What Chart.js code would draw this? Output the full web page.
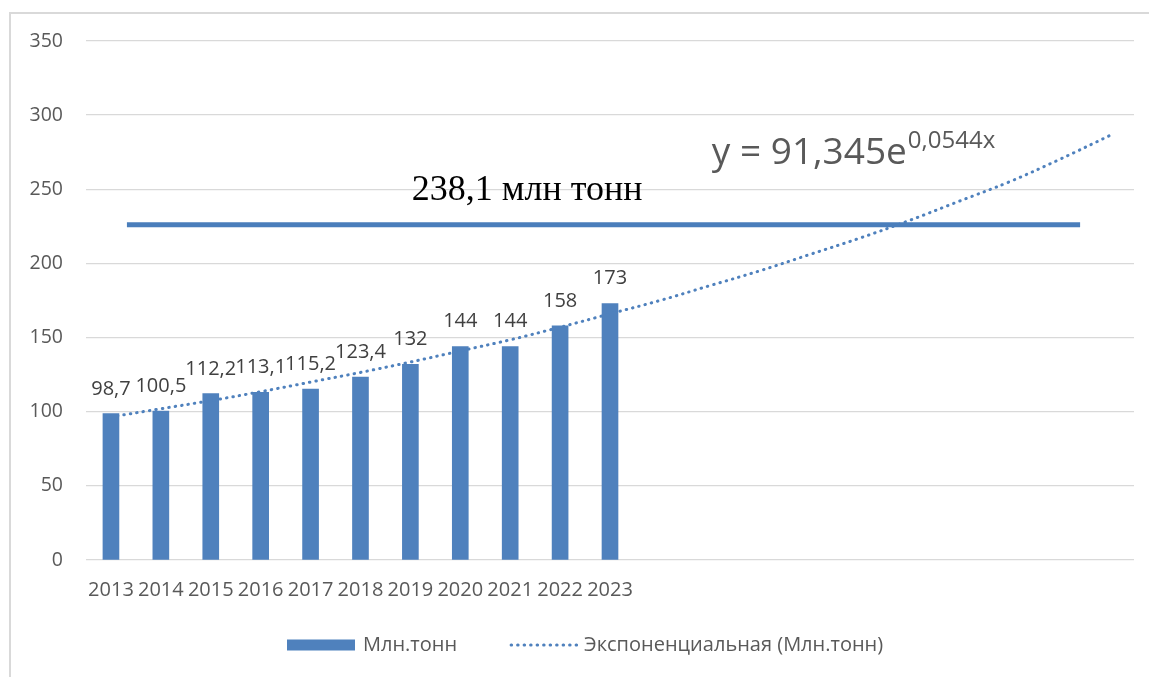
<!DOCTYPE html>
<html>
<head>
<meta charset="utf-8">
<script src="https://cdn.jsdelivr.net/npm/chart.js@4/dist/chart.umd.min.js"></script>
<style>
body{margin:0;background:#fff;}
#frame{position:absolute;left:9px;top:12px;width:1200px;height:700px;border-left:2px solid #d9d9d9;border-top:2px solid #d9d9d9;}
#grafica{position:absolute;left:0;top:0;}
</style>
</head>
<body>
<div id="frame"></div>
<canvas id="grafica" width="1149" height="677"></canvas>
<script>
// categorias (las ultimas 10 sin etiqueta, solo para la linea de tendencia)
const etiquetas = ['2013','2014','2015','2016','2017','2018','2019','2020','2021','2022','2023',
                   '','','','','','','','','',''];
const produccion = [98.7, 100.5, 112.2, 113.1, 115.2, 123.4, 132, 144, 144, 158, 173];
const tendencia = [96.5, 102, 107.5, 113.5, 120, 126.5, 133.5, 141, 148.5, 157, 166,
                   175, 185, 195, 206, 217, 229, 242, 255, 270, 286];
// linea horizontal (valor) y su tramo en indices de categoria
const valorMeta = 226;
const metaDesde = 0.32;
const metaHasta = 19.42;
const textoMeta = '238,1 млн тонн';
const formula = 'y = 91,345e';
const formulaExp = '0,0544x';
const nombreSerie = 'Млн.тонн';
const nombreTendencia = 'Экспоненциальная (Млн.тонн)';

const azul = '#4f81bd';
const gris = '#595959';
const sans = "'Open Sans', sans-serif";

const lineaMeta = {
    id: 'lineaMeta',
    afterDatasetsDraw(chart) {
        const ctx = chart.ctx;
        const x = chart.scales.x;
        const y = chart.scales.y;
        const py = y.getPixelForValue(valorMeta);
        ctx.save();
        ctx.strokeStyle = '#4a7ebb';
        ctx.lineWidth = 5;
        ctx.beginPath();
        ctx.moveTo(x.getPixelForValue(metaDesde), py);
        ctx.lineTo(x.getPixelForValue(metaHasta), py);
        ctx.stroke();
        ctx.restore();
    }
};

const etiquetasDatos = {
    id: 'etiquetasDatos',
    afterDatasetsDraw(chart) {
        const ctx = chart.ctx;
        const meta = chart.getDatasetMeta(0);
        ctx.save();
        ctx.font = '20px ' + sans;
        ctx.fillStyle = '#404040';
        ctx.textAlign = 'center';
        ctx.textBaseline = 'alphabetic';
        meta.data.forEach((bar, i) => {
            ctx.fillText(String(produccion[i]).replace('.', ','), bar.x, bar.y - 19);
        });
        ctx.restore();
    }
};

const textos = {
    id: 'textos',
    afterDraw(chart) {
        const ctx = chart.ctx;
        const x = chart.scales.x;
        const y = chart.scales.y;
        ctx.save();
        ctx.fillStyle = '#000';
        ctx.font = "36px 'Liberation Serif', serif";
        ctx.textAlign = 'center';
        ctx.textBaseline = 'alphabetic';
        ctx.fillText(textoMeta, x.getPixelForValue(8.34), y.getPixelForValue(243));

        ctx.fillStyle = gris;
        ctx.textAlign = 'left';
        ctx.font = '37px ' + sans;
        const fx = x.getPixelForValue(12.04);
        const fy = y.getPixelForValue(267);
        ctx.fillText(formula, fx, fy);
        const w = ctx.measureText(formula).width;
        ctx.font = '24px ' + sans;
        ctx.fillText(formulaExp, fx + w + 1, fy - 16);

        // leyenda
        const ly = 645;
        let lx = 287;
        ctx.font = '20px ' + sans;
        ctx.textBaseline = 'middle';
        ctx.fillStyle = azul;
        ctx.fillRect(lx, ly - 5.5, 68, 11);
        lx += 76;
        ctx.fillStyle = gris;
        ctx.fillText(nombreSerie, lx, ly);
        lx += ctx.measureText(nombreSerie).width + 52;
        ctx.strokeStyle = azul;
        ctx.lineWidth = 3;
        ctx.lineCap = 'round';
        ctx.setLineDash([0.5, 6]);
        ctx.beginPath();
        ctx.moveTo(lx + 2, ly);
        ctx.lineTo(lx + 70, ly);
        ctx.stroke();
        ctx.setLineDash([]);
        ctx.fillText(nombreTendencia, lx + 75, ly);
        ctx.restore();
    }
};

const ctx = document.getElementById('grafica');
new Chart(ctx, {
    type: 'bar',
    data: {
        labels: etiquetas,
        datasets: [{
            label: nombreSerie,
            data: produccion,
            backgroundColor: azul,
            barThickness: 16,
            order: 2
        }, {
            type: 'line',
            label: nombreTendencia,
            data: tendencia,
            borderColor: azul,
            borderWidth: 3,
            borderDash: [0.5, 6],
            borderCapStyle: 'round',
            pointRadius: 0,
            tension: 0.4,
            fill: false,
            order: 1
        }]
    },
    options: {
        responsive: false,
        animation: false,
        layout: {padding: {left: 0, right: 15, top: 41, bottom: 0}},
        plugins: {
            legend: {display: false},
            tooltip: {enabled: false}
        },
        scales: {
            x: {
                grid: {display: false, drawTicks: false},
                border: {display: false},
                ticks: {
                    color: gris,
                    font: {family: sans, size: 20},
                    padding: 18,
                    autoSkip: false,
                    maxRotation: 0
                },
                afterFit: (s) => { s.height = 117; }
            },
            y: {
                min: 0,
                max: 350,
                ticks: {
                    stepSize: 50,
                    color: gris,
                    font: {family: sans, size: 19.5},
                    padding: 23
                },
                grid: {color: '#d9d9d9', lineWidth: 1.3, drawTicks: false},
                border: {display: false},
                afterFit: (s) => { s.width = 86; }
            }
        }
    },
    plugins: [lineaMeta, etiquetasDatos, textos]
});
</script>
</body>
</html>
